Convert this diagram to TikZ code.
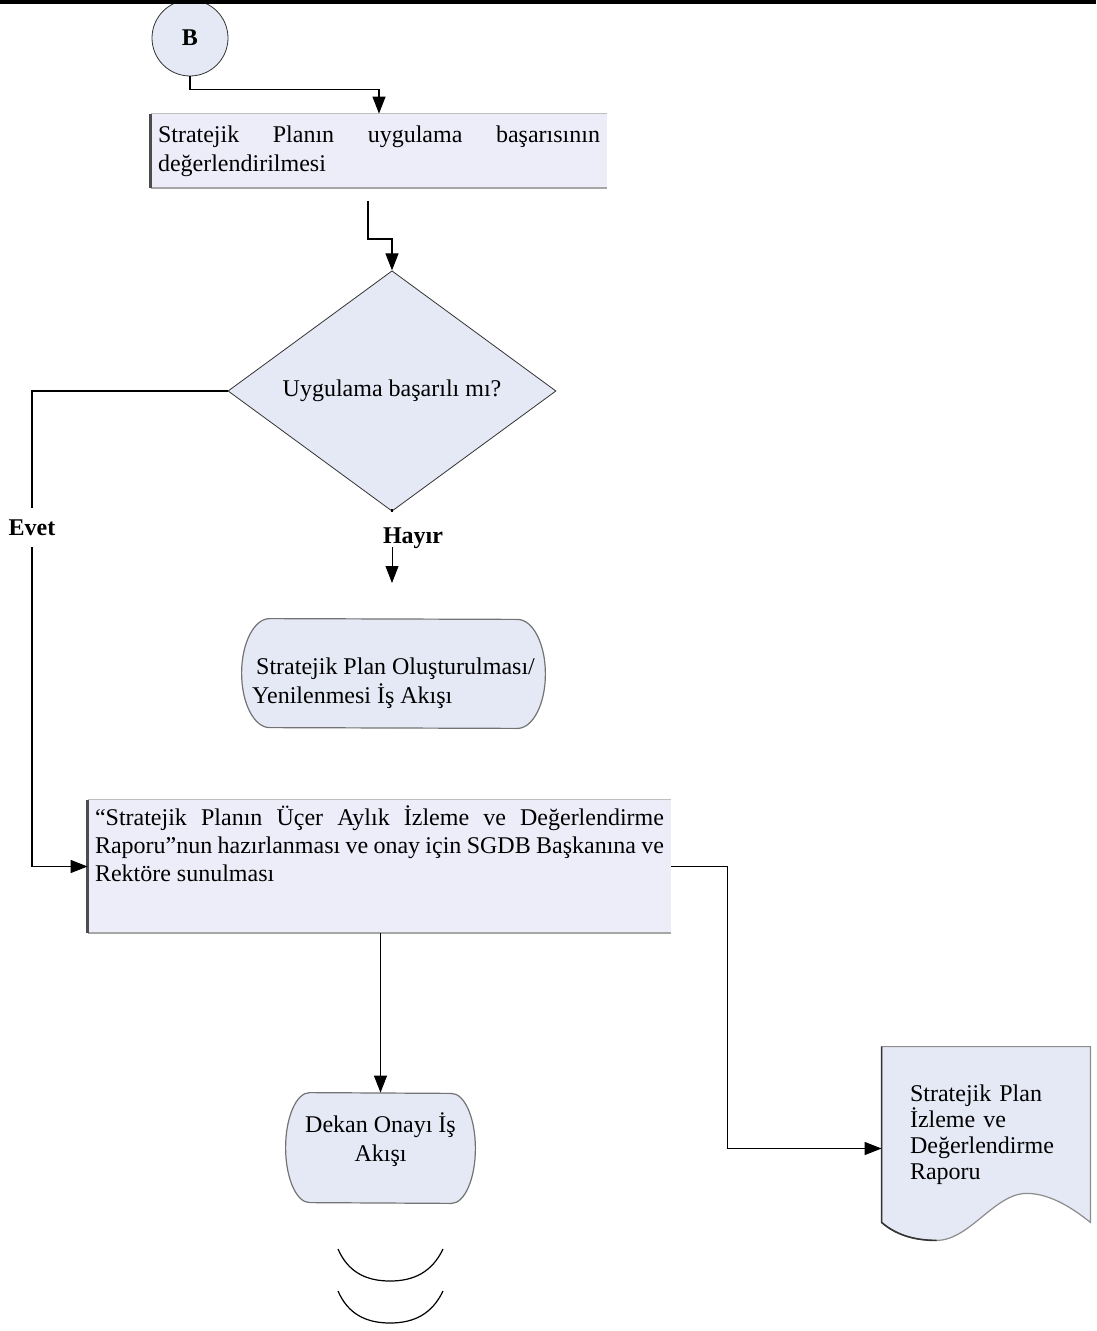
\documentclass[tikz,border=0pt]{standalone}
\usepackage{fontspec}
\setmainfont{Liberation Serif}
\usepackage{xcolor}
\usepackage{tikz}
\usetikzlibrary{shapes.geometric, arrows.meta, calc, backgrounds}
\definecolor{boxfill}{RGB}{237,237,250}
\definecolor{shapefill}{RGB}{229,233,245}
\tikzset{
  connector/.style={circle, draw=black!80, fill=shapefill, minimum size=38pt, inner sep=0pt, font=\bfseries\fontsize{12}{14}\selectfont},
  process/.style={rectangle, fill=boxfill, inner xsep=3.5pt, inner ysep=3pt, align=justify, font=\fontsize{12}{14.5}\selectfont},
  proctext/.style={rectangle, inner xsep=3.5pt, inner ysep=3pt, align=justify, font=\fontsize{12}{14}\selectfont},
  decision/.style={diamond, draw=black!80, fill=shapefill, minimum width=164pt, minimum height=83pt, inner sep=0pt, font=\fontsize{12}{14}\selectfont},
  flowlink/.style={rectangle, inner sep=0pt},
  linktext/.style={rectangle, inner sep=0pt, font=\fontsize{12}{14.5}\selectfont},
  terminal/.style={draw=black!55, fill=shapefill, line width=0.6pt},
  docnode/.style={rectangle, inner xsep=14pt, inner ysep=0pt, align=left, font=\fontsize{12}{13}\selectfont},
  answer/.style={rectangle, inner sep=0pt, font=\bfseries\fontsize{12}{14}\selectfont},
  darkedge/.style={draw=black!70, line width=1.2pt},
  lightedge/.style={draw=black!35, line width=1pt},
  topedge/.style={draw=black!25, line width=0.5pt},
  line/.style={line width=0.6pt},
  arrow/.style={-{Triangle[length=8.5pt, width=6.5pt]}, line width=0.6pt},
}
\begin{document}
\begin{tikzpicture}[x=0.5pt, y=-0.5pt]
\useasboundingbox (0,0) rectangle (1096,1331);

% nodes
\node[connector] (b) at (190,38) {B};
\node[process, minimum width=228pt, minimum height=37pt, text width=221pt] (plan) at (379,151)
  {Stratejik Planın uygulama başarısının\linebreak değerlendirilmesi};
\node[decision] (dec) at (392,391) {Uygulama başarılı mı?\\[6pt]};
\node[answer, minimum height=19.5pt] (yes) at (32,527.5) {Evet};
\node[answer] (no) at (413,538) {Hayır};
\coordinate (noEnd) at (392,509);
\coordinate (noStart) at (392,547);
\coordinate (noTip) at (392,583);
\coordinate (evalOut) at (368,201);

\node[flowlink, minimum width=151.5pt, minimum height=54.5pt] (renew) at (393.5,673.5) {};
\node[linktext, align=left] (renewtext) at ([yshift=-4.75pt]renew.center)
  {\hspace{2pt}Stratejik Plan Oluşturulması/\\Yenilenmesi İş Akışı};

\node[process, minimum width=291.5pt, minimum height=66.5pt] (rep) at (379.5,866.5) {};
\node[proctext, text width=284.5pt, anchor=north] (reptext) at (rep.north)
  {“Stratejik Planın Üçer Aylık İzleme ve Değerlendirme\linebreak Raporu”nun hazırlanması ve onay için SGDB Başkanına ve\linebreak Rektöre sunulması};

\node[flowlink, minimum width=94.5pt, minimum height=55pt] (dekan) at (380.5,1148) {};
\node[linktext, align=center] (dekantext) at ([yshift=4.25pt]dekan.center)
  {Dekan Onayı İş\\Akışı};

\node[docnode, text width=76pt, minimum height=87.5pt] (doc) at (986,1134.5)
  {Stratejik Plan\\İzleme ve\\Değerlendirme\\Raporu};

% shapes behind the texts
\begin{scope}[on background layer]
\draw[terminal] ($(renew.north west)+(28,0)$) arc[start angle=90, end angle=270, x radius=14pt, y radius=27.25pt]
  -- ($(renew.south east)+(-28,0)$) arc[start angle=-90, end angle=90, x radius=14pt, y radius=27.25pt] -- cycle;
\draw[terminal] ($(dekan.north west)+(24,0)$) arc[start angle=90, end angle=270, x radius=12pt, y radius=27.5pt]
  -- ($(dekan.south east)+(-24,0)$) arc[start angle=-90, end angle=90, x radius=12pt, y radius=27.5pt] -- cycle;
\draw[fill=shapefill, draw=black!45, line width=0.6pt] (doc.north west) -- (doc.south west)
  .. controls +(16,14) and +(-19,0) .. ($(doc.south west)+(55,18)$)
  .. controls +(33,0) and +(-32,0) .. ($(doc.south west)+(145,-29)$)
  .. controls +(25,0) and +(-15,-12) .. (doc.south east) -- (doc.north east) -- cycle;
\draw[black!80, line width=0.8pt] (doc.north west) -- (doc.south west)
  .. controls +(16,14) and +(-19,0) .. ($(doc.south west)+(55,18)$);
\end{scope}

% box edges
\draw[topedge] (plan.north west) -- (plan.north east);
\draw[lightedge] (plan.south west) -- (plan.south east);
\draw[darkedge] (plan.north west) -- (plan.south west);
\draw[topedge] (rep.north west) -- (rep.north east);
\draw[lightedge] (rep.south west) -- (rep.south east);
\draw[darkedge] (rep.north west) -- (rep.south west);

% connectors
\draw[arrow] (b.south) -- ++(0,13) -| (plan.north);
\draw[arrow] (evalOut) -- ++(0,38) -| (dec.north);
\draw[line] (dec.west) -| (yes.north);
\draw[arrow] (yes.south) |- (rep.west);
\draw[line] (dec.south) -- (noEnd);
\draw[arrow, line width=0.4pt] (noStart) -- (noTip);
\draw[arrow] (rep.east) -- ++(56,0) |- ([yshift=-7pt]doc.west);
\draw[arrow] (rep.south -| dekan.north) -- (dekan.north);

% continuation marks
\draw[line] (338,1249) .. controls (348,1272) and (366,1281) .. (390,1281) .. controls (414,1281) and (432,1272) .. (443,1249);
\draw[line] (338,1291) .. controls (348,1314) and (366,1323) .. (390,1323) .. controls (414,1323) and (432,1314) .. (443,1291);

% page rule
\draw[line width=2pt] (0,2) -- (1096,2);
\end{tikzpicture}
\end{document}
